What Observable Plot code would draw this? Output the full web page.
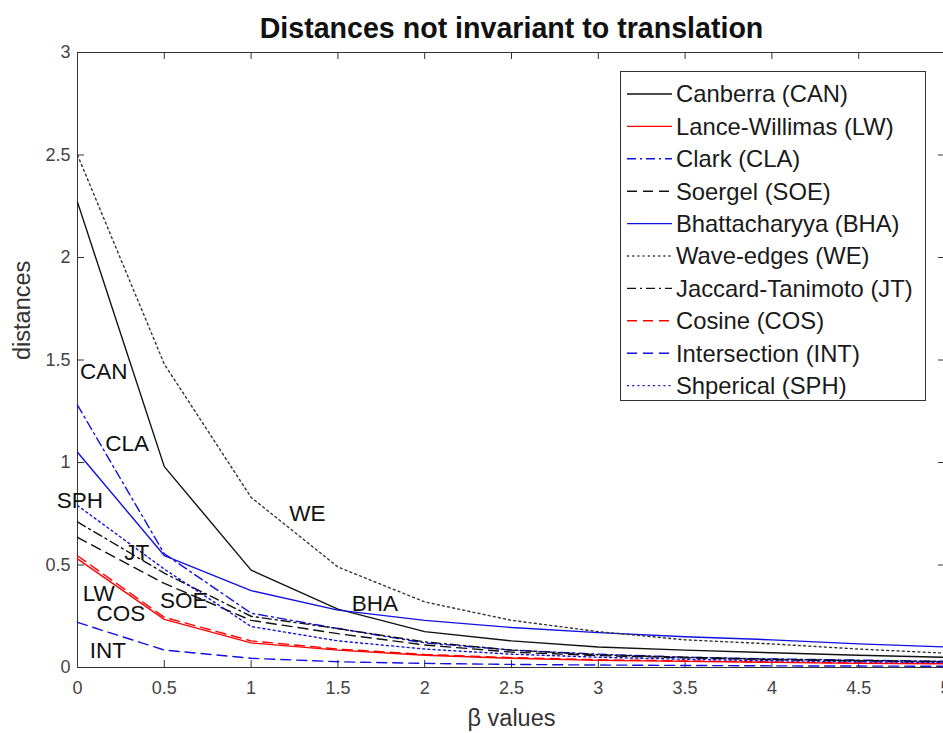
<!DOCTYPE html>
<html><head><meta charset="utf-8">
<script src="https://cdn.jsdelivr.net/npm/d3@7"></script>
<script src="https://cdn.jsdelivr.net/npm/@observablehq/plot@0.6"></script>
<style>
html,body{margin:0;padding:0;background:#fff;overflow:hidden;}
#chart svg{display:block;max-width:none;}
</style></head><body><div id="chart"></div>
<script>
// ---- data ----
const betas = [0, 0.5, 1, 1.5, 2, 2.5, 3, 3.5, 4, 4.5, 5];
const CAN = [2.27, 0.98, 0.475, 0.285, 0.175, 0.13, 0.10, 0.085, 0.072, 0.06, 0.05];
const LW  = [0.53, 0.235, 0.12, 0.085, 0.06, 0.045, 0.035, 0.03, 0.025, 0.02, 0.018];
const CLA = [1.28, 0.555, 0.265, 0.19, 0.12, 0.085, 0.065, 0.05, 0.042, 0.036, 0.03];
const SOE = [0.635, 0.41, 0.23, 0.165, 0.11, 0.075, 0.058, 0.047, 0.038, 0.032, 0.027];
const BHA = [1.05, 0.546, 0.375, 0.28, 0.23, 0.195, 0.17, 0.15, 0.135, 0.115, 0.1];
const WE  = [2.5, 1.48, 0.83, 0.49, 0.32, 0.23, 0.175, 0.135, 0.115, 0.09, 0.07];
const JT  = [0.71, 0.46, 0.25, 0.19, 0.125, 0.085, 0.062, 0.05, 0.04, 0.034, 0.029];
const COS = [0.545, 0.245, 0.13, 0.09, 0.064, 0.048, 0.038, 0.032, 0.027, 0.022, 0.02];
const INT = [0.22, 0.085, 0.045, 0.028, 0.02, 0.015, 0.012, 0.01, 0.008, 0.007, 0.006];
const SPH = [0.79, 0.48, 0.2, 0.13, 0.09, 0.065, 0.05, 0.04, 0.033, 0.028, 0.024];

const seriesKeys = ["CAN", "LW", "CLA", "SOE", "BHA", "WE", "JT", "COS", "INT", "SPH"];
const seriesNames = ["Canberra (CAN)", "Lance-Willimas (LW)", "Clark (CLA)", "Soergel (SOE)",
  "Bhattacharyya (BHA)", "Wave-edges (WE)", "Jaccard-Tanimoto (JT)", "Cosine (COS)",
  "Intersection (INT)", "Shperical (SPH)"];
const seriesValues = [CAN, LW, CLA, SOE, BHA, WE, JT, COS, INT, SPH];

const annLabels = ["CAN", "CLA", "SPH", "WE", "JT", "BHA", "LW", "SOE", "COS", "INT"];
const annX = [0.015, 0.16, -0.12, 1.22, 0.27, 1.58, 0.03, 0.475, 0.11, 0.07];
const annY = [1.444, 1.093, 0.815, 0.75, 0.56, 0.31, 0.36, 0.327, 0.263, 0.083];

const xTicks = [0, 0.5, 1, 1.5, 2, 2.5, 3, 3.5, 4, 4.5, 5];
const yTicks = [0, 0.5, 1, 1.5, 2, 2.5, 3];

// ---- styles ----
const DASH = "10,6", DOT = "2,3.2", DASHDOT = "9,4,2,4";
const styles = {
  CAN: {stroke: "#111", dash: null},
  LW:  {stroke: "#ff0000", dash: null},
  CLA: {stroke: "#1010e0", dash: DASHDOT},
  SOE: {stroke: "#111", dash: DASH},
  BHA: {stroke: "#1010e0", dash: null},
  WE:  {stroke: "#333", dash: DOT},
  JT:  {stroke: "#111", dash: DASHDOT},
  COS: {stroke: "#ff0000", dash: DASH},
  INT: {stroke: "#1010e0", dash: DASH},
  SPH: {stroke: "#1010e0", dash: DOT}
};

const W = 943, H = 733, mL = 77, mR = -2, mT = 52, mB = 66;
const pxX = (W - mR - mL) / 5, pxY = (H - mB - mT) / 3;
const tlx = 7 / pxX, tly = 7 / pxY;
const FONT = "Liberation Sans, Arial, Helvetica, sans-serif";
const AX = "#333";

const rows = [];
seriesKeys.forEach((k, i) => betas.forEach((b, j) => rows.push({series: k, x: b, y: seriesValues[i][j]})));
const ann = annLabels.map((t, i) => ({t, x: annX[i], y: annY[i]}));

const lineMarks = seriesKeys.map(k => Plot.line(rows.filter(r => r.series === k), {
  x: "x", y: "y", stroke: styles[k].stroke, strokeWidth: 1.4,
  strokeDasharray: styles[k].dash || undefined
}));

const svg = Plot.plot({
  width: W, height: H,
  marginLeft: mL, marginRight: mR, marginTop: mT, marginBottom: mB,
  style: {fontFamily: FONT, background: "#fff", overflow: "hidden"},
  x: {domain: [0, 5], axis: null},
  y: {domain: [0, 3], axis: null},
  marks: [
    Plot.frame({stroke: AX, strokeWidth: 1}),
    // inward ticks on four sides
    Plot.ruleX(xTicks, {x: d => d, y1: 0, y2: tly, stroke: AX}),
    Plot.ruleX(xTicks, {x: d => d, y1: 3, y2: 3 - tly, stroke: AX}),
    Plot.ruleY(yTicks, {y: d => d, x1: 0, x2: tlx, stroke: AX}),
    Plot.ruleY(yTicks, {y: d => d, x1: 5, x2: 5 - tlx, stroke: AX}),
    Plot.axisX(xTicks, {anchor: "bottom", tickSize: 0, tickPadding: 14, fontSize: 18, fill: "#444", label: null, tickFormat: d => String(d)}),
    Plot.axisY(yTicks, {anchor: "left", tickSize: 0, tickPadding: 7, fontSize: 18, fill: "#444", label: null, tickFormat: d => String(d)}),
    ...lineMarks,
    Plot.text(ann, {x: "x", y: "y", text: "t", textAnchor: "start", lineAnchor: "middle", fontSize: 22.5, fill: "#111"}),
    Plot.text(["Distances not invariant to translation"], {frameAnchor: "top", text: d => d, dy: -24, lineAnchor: "middle", fontSize: 28.6, fontWeight: "bold", fill: "#111"}),
    Plot.text(["β values"], {frameAnchor: "bottom", text: d => d, dy: 51, lineAnchor: "middle", fontSize: 23.5, fill: "#333"}),
    Plot.text(["distances"], {frameAnchor: "left", text: d => d, dx: -55, rotate: -90, lineAnchor: "middle", fontSize: 23.5, fill: "#333"})
  ]
});

// legend box inside the axes (top-right)
const lg = d3.select(svg).append("g").attr("font-family", FONT).attr("text-anchor", "start");
lg.append("rect").attr("x", 620.5).attr("y", 71.5).attr("width", 305).attr("height", 329)
  .attr("fill", "#fff").attr("stroke", AX).attr("stroke-width", 1);
seriesKeys.forEach((k, i) => {
  const cy = 94 + i * 32.4;
  lg.append("line").attr("x1", 627).attr("x2", 672).attr("y1", cy).attr("y2", cy)
    .attr("stroke", styles[k].stroke).attr("stroke-width", 1.4)
    .attr("stroke-dasharray", styles[k].dash);
  lg.append("text").attr("x", 676).attr("y", cy).attr("dy", "0.35em")
    .attr("text-anchor", "start")
    .attr("font-size", 23.8).attr("fill", "#1a1a1a").text(seriesNames[i]);
});

document.getElementById("chart").appendChild(svg);
</script></body></html>
